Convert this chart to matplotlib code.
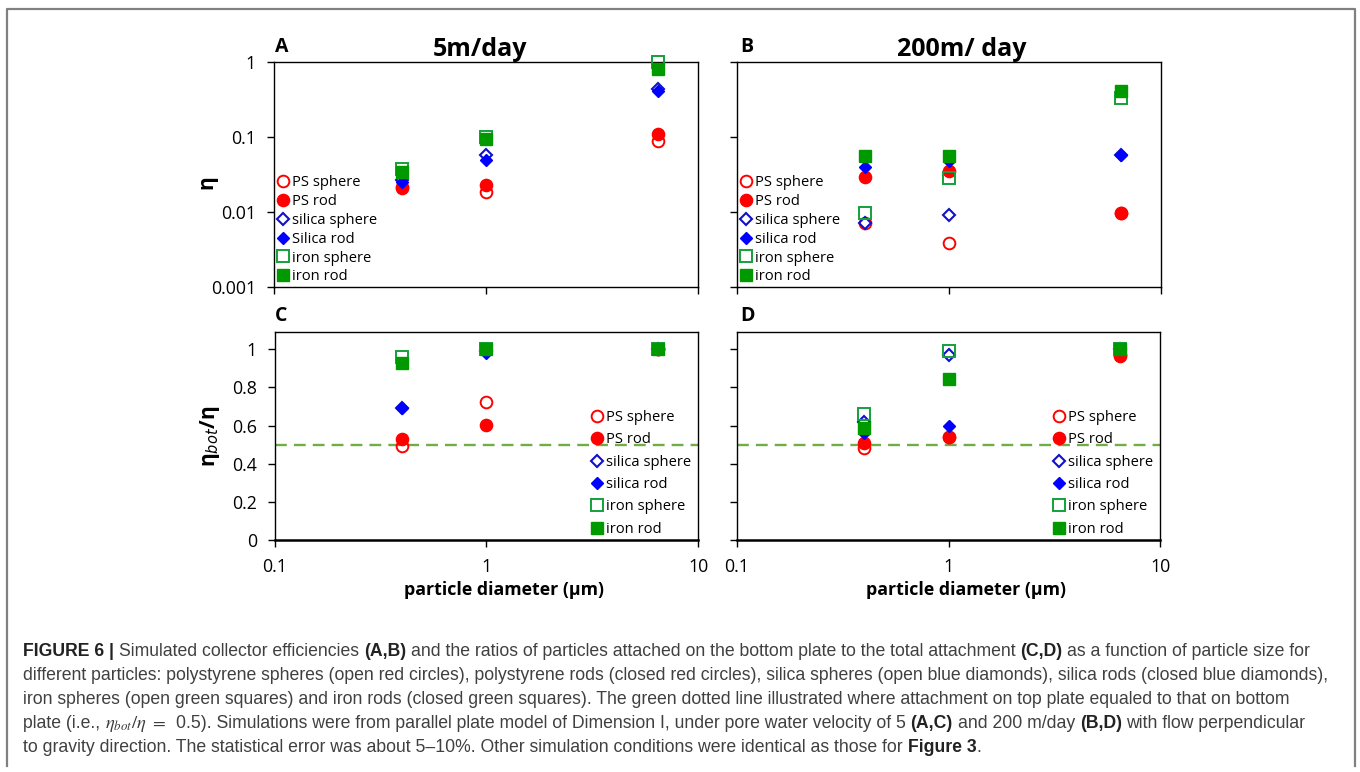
import matplotlib
matplotlib.use('Agg')
import matplotlib.pyplot as plt
from matplotlib.lines import Line2D
from matplotlib.ticker import FixedLocator, NullLocator, FixedFormatter, NullFormatter

W, H = 1360, 772

# ---------------- data ----------------
diameters = [0.4, 1.0, 6.5]
x_ticks = [0.1, 1, 10]
x_tick_labels = ['0.1', '1', '10']
eta_ticks = [0.001, 0.01, 0.1, 1]
eta_tick_labels = ['0.001', '0.01', '0.1', '1']
ratio_ticks = [0, 0.2, 0.4, 0.6, 0.8, 1]
ratio_tick_labels = ['0', '0.2', '0.4', '0.6', '0.8', '1']

labels_A = ['PS sphere', 'PS rod', 'silica sphere', 'Silica rod', 'iron sphere', 'iron rod']
labels_BCD = ['PS sphere', 'PS rod', 'silica sphere', 'silica rod', 'iron sphere', 'iron rod']

# Panel A: collector efficiency, 5 m/day
eta5_ps_sphere = [0.021, 0.0187, 0.088]
eta5_ps_rod = [0.0215, 0.0229, 0.11]
eta5_silica_sphere = [0.0265, 0.0575, 0.43]
eta5_silica_rod = [0.025, 0.049, 0.41]
eta5_iron_sphere = [0.038, 0.099, 1.0]
eta5_iron_rod = [0.0345, 0.093, 0.81]

# Panel B: collector efficiency, 200 m/day
eta200_ps_sphere = [0.0071, 0.0039, 0.0096]
eta200_ps_rod = [0.0295, 0.0356, 0.0096]
eta200_silica_sphere = [0.0072, 0.0091, 0.058]
eta200_silica_rod = [0.040, 0.048, 0.058]
eta200_iron_sphere = [0.0096, 0.028, 0.33]
eta200_iron_rod = [0.0558, 0.0558, 0.41]

# Panel C: eta_bot/eta, 5 m/day
ratio5_ps_sphere = [0.49, 0.722, 1.0]
ratio5_ps_rod = [0.528, 0.603, 1.0]
ratio5_silica_sphere = [0.69, 0.99, 1.0]
ratio5_silica_rod = [0.69, 0.98, 1.0]
ratio5_iron_sphere = [0.958, 1.0, 1.0]
ratio5_iron_rod = [0.927, 1.0, 1.0]

# Panel D: eta_bot/eta, 200 m/day
ratio200_ps_sphere = [0.484, 0.54, 0.97]
ratio200_ps_rod = [0.507, 0.538, 0.962]
ratio200_silica_sphere = [0.62, 0.97, 1.0]
ratio200_silica_rod = [0.563, 0.598, 1.0]
ratio200_iron_sphere = [0.661, 0.988, 1.0]
ratio200_iron_rod = [0.586, 0.843, 1.0]

half_line = 0.5

# ---------------- styles ----------------
RED = '#ff0000'
BLUE_O = '#1010cc'
BLUE_F = '#0000ff'
GREEN_O = '#14a03c'
GREEN_F = '#009a00'
styles = [
    dict(marker='o', mfc='none', mec=RED, ms=8.4, mew=1.4),
    dict(marker='o', mfc=RED, mec=RED, ms=8.8, mew=1.0),
    dict(marker='D', mfc='none', mec=BLUE_O, ms=5.9, mew=1.5),
    dict(marker='D', mfc=BLUE_F, mec=BLUE_F, ms=5.9, mew=1.0),
    dict(marker='s', mfc='none', mec=GREEN_O, ms=8.0, mew=1.4),
    dict(marker='s', mfc=GREEN_F, mec=GREEN_F, ms=8.2, mew=1.0),
]

FONT = ['Open Sans', 'DejaVu Sans']
plt.rcParams['font.family'] = FONT

fig = plt.figure(figsize=(W / 100, H / 100), dpi=100)


def fig_axes(left, top, right, bottom):
    return fig.add_axes([left / W, 1 - bottom / H, (right - left) / W, (bottom - top) / H])


axA = fig_axes(274, 62, 698, 287)
axB = fig_axes(737, 62, 1161, 287)
axC = fig_axes(275, 332, 698, 540)
axD = fig_axes(737, 332, 1160, 540)

panels = [
    (axA, [eta5_ps_sphere, eta5_ps_rod, eta5_silica_sphere, eta5_silica_rod, eta5_iron_sphere, eta5_iron_rod], labels_A, 'eta', True),
    (axB, [eta200_ps_sphere, eta200_ps_rod, eta200_silica_sphere, eta200_silica_rod, eta200_iron_sphere, eta200_iron_rod], labels_BCD, 'eta', False),
    (axC, [ratio5_ps_sphere, ratio5_ps_rod, ratio5_silica_sphere, ratio5_silica_rod, ratio5_iron_sphere, ratio5_iron_rod], labels_BCD, 'ratio', True),
    (axD, [ratio200_ps_sphere, ratio200_ps_rod, ratio200_silica_sphere, ratio200_silica_rod, ratio200_iron_sphere, ratio200_iron_rod], labels_BCD, 'ratio', False),
]

for ax, data, labels, kind, show_y in panels:
    ax.set_xscale('log')
    ax.set_xlim(0.1, 10)
    if kind == 'eta':
        ax.set_yscale('log')
        ax.set_ylim(0.001, 1)
        ax.yaxis.set_major_locator(FixedLocator(eta_ticks))
        ax.yaxis.set_major_formatter(FixedFormatter(eta_tick_labels) if show_y else NullFormatter())
        ax.xaxis.set_major_formatter(NullFormatter())
        ax.spines['bottom'].set_linewidth(1.0)
    else:
        ax.set_ylim(0, 1.09)
        ax.yaxis.set_major_locator(FixedLocator(ratio_ticks))
        ax.yaxis.set_major_formatter(FixedFormatter(ratio_tick_labels) if show_y else NullFormatter())
        ax.xaxis.set_major_formatter(FixedFormatter(x_tick_labels))
        ax.axhline(half_line, color='#70ad47', lw=1.7, ls=(0, (5.0, 3.0)), zorder=1)
        ax.spines['bottom'].set_linewidth(1.8)
    ax.xaxis.set_major_locator(FixedLocator(x_ticks))
    ax.xaxis.set_minor_locator(NullLocator())
    ax.yaxis.set_minor_locator(NullLocator())
    for sp in ['left', 'top', 'right']:
        ax.spines[sp].set_linewidth(1.0)
    ax.tick_params(direction='out', length=5, width=1.0, labelsize=12.8, pad=8, colors='black')
    ax.tick_params(axis='x', pad=8)

    handles = []
    for vals, st, lab in zip(data, styles, labels):
        ax.plot(diameters, vals, ls='none', clip_on=False, zorder=3, **st)
        handles.append(Line2D([], [], ls='none', **st))

    if kind == 'eta':
        anchor = (0.007, 0.254)
        spacing = 0.26
    else:
        anchor = (0.747, 0.320)
        spacing = 0.50
    ax.legend(handles, labels, loc='center left', bbox_to_anchor=anchor, frameon=False,
              borderpad=0, borderaxespad=0, handlelength=0.8, handletextpad=0.25,
              labelspacing=spacing, prop={'family': FONT, 'size': 10.6})

# titles / panel letters
fig.text(480 / W, 1 - 50 / H, '5m/day', ha='center', va='center', fontsize=18, fontweight='bold')
fig.text(962 / W, 1 - 50 / H, '200m/ day', ha='center', va='center', fontsize=18, fontweight='bold')
for lx, ly, letter in [(275, 47, 'A'), (740, 47, 'B'), (275, 316, 'C'), (740, 316, 'D')]:
    fig.text(lx / W, 1 - ly / H, letter, ha='left', va='center', fontsize=14, fontweight='bold')

# axis labels
fig.text(207 / W, 1 - 182 / H, 'η', rotation=90, ha='center', va='center', fontsize=15, fontweight='bold')
fig.text(210 / W, 1 - 436 / H, r'η$_{bot}$/η', rotation=90, ha='center', va='center', fontsize=15,
         fontweight='bold')
for cx in [504, 966]:
    fig.text(cx / W, 1 - 590 / H, 'particle diameter (μm)', ha='center', va='center', fontsize=12.8,
             fontweight='bold')

# border
fig.add_artist(Line2D([7 / W, 7 / W, 1355 / W, 1355 / W], [1 - 766 / H, 1 - 9 / H, 1 - 9 / H, 1 - 766 / H],
                      transform=fig.transFigure, color='#808080', lw=1.6))

# ---------------- caption ----------------
caption_lines = [
    [("FIGURE 6 |", 'b'), (" Simulated collector efficiencies ", 'r'), ("(A,B)", 'b'),
     (" and the ratios of particles attached on the bottom plate to the total attachment ", 'r'),
     ("(C,D)", 'b'), (" as a function of particle size for", 'r')],
    [("different particles: polystyrene spheres (open red circles), polystyrene rods (closed red circles), "
      "silica spheres (open blue diamonds), silica rods (closed blue diamonds),", 'r')],
    [("iron spheres (open green squares) and iron rods (closed green squares). The green dotted line "
      "illustrated where attachment on top plate equaled to that on bottom", 'r')],
    [("plate (i.e., ", 'r'), (r"$\eta_{bot}/\eta\ =$", 'm'),
     ("  0.5). Simulations were from parallel plate model of Dimension I, under pore water velocity of 5 ", 'r'),
     ("(A,C)", 'b'), (" and 200 m/day ", 'r'), ("(B,D)", 'b'), (" with flow perpendicular", 'r')],
    [("to gravity direction. The statistical error was about 5\u201310%. Other simulation conditions "
      "were identical as those for ", 'r'), ("Figure 3", 'b'), (".", 'r')],
]
baselines = [656, 680, 704, 728, 752]
CAP_FONT = ['Liberation Sans', 'DejaVu Sans']
renderer = fig.canvas.get_renderer()


def text_width(s, fs, weight):
    a = fig.text(0, 0, '|' + s + '|', fontsize=fs, family=CAP_FONT, fontweight=weight)
    b = fig.text(0, 0, '||', fontsize=fs, family=CAP_FONT, fontweight=weight)
    w = a.get_window_extent(renderer).width - b.get_window_extent(renderer).width
    a.remove(); b.remove()
    return w


def layout_caption(fs, draw=True):
    arts = []
    ends = []
    for segs, base in zip(caption_lines, baselines):
        x = 23.0
        for s, kind in segs:
            if kind == 'm':
                t = fig.text(x / W, 1 - base / H, s, fontsize=fs * 1.05, family=CAP_FONT,
                             math_fontfamily='stix', va='baseline', ha='left', color='#3a3a3a')
                x += t.get_window_extent(renderer).width
                arts.append(t)
                continue
            weight = 'bold' if kind == 'b' else 'normal'
            lead = len(s) - len(s.lstrip(' '))
            core = s.strip(' ')
            x += text_width(' ' * lead, fs, weight) if lead else 0
            t = fig.text(x / W, 1 - base / H, core, fontsize=fs, family=CAP_FONT, fontweight=weight,
                         va='baseline', ha='left', color='#222222' if kind == 'b' else '#404040')
            arts.append(t)
            trail = len(s) - len(s.rstrip(' '))
            x += text_width(core + ' ' * trail, fs, weight)
        ends.append(x)
    return arts, ends


fs = 10.0
for _ in range(3):
    arts, ends = layout_caption(fs)
    for a in arts:
        a.remove()
    fs = fs * (1330 - 23) / (ends[1] - 23)
layout_caption(fs)

fig.savefig('out.png', dpi=100)
